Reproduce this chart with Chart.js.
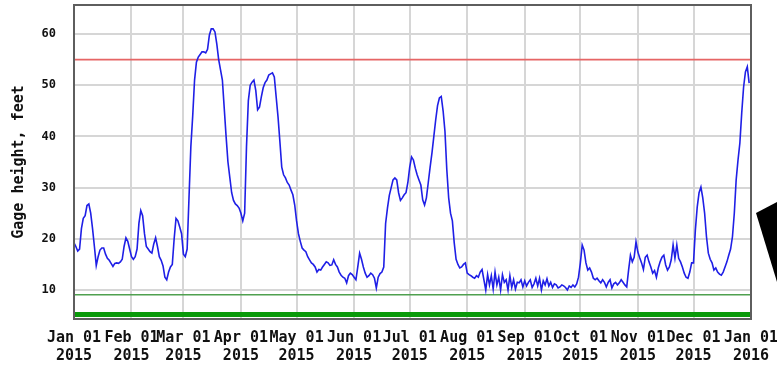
<!DOCTYPE html>
<html>
<head>
<meta charset="utf-8">
<script src="https://cdn.jsdelivr.net/npm/chart.js@4.4.1/dist/chart.umd.min.js"></script>
<style>
  html, body { margin: 0; padding: 0; background: #fff; }
  #wrap { width: 777px; height: 365px; }
</style>
</head>
<body>
<div id="wrap"><canvas id="gageChart"></canvas></div>
<script>
// days since 01 Jan 2015 where each month starts (x ticks)
const monthStartDays = [0, 31, 59, 90, 120, 151, 181, 212, 243, 273, 304, 334, 365];
const monthLabels = ["Jan 01", "Feb 01", "Mar 01", "Apr 01", "May 01", "Jun 01", "Jul 01",
	"Aug 01", "Sep 01", "Oct 01", "Nov 01", "Dec 01", "Jan 01"];
const yearLabels = ["2015", "2015", "2015", "2015", "2015", "2015", "2015",
	"2015", "2015", "2015", "2015", "2015", "2016"];
const yTicks = [10, 20, 30, 40, 50, 60];

// reference lines, feet
const floodStage = 55;
const lowStage = 9.1;
const bottomStage = 5.2;

// daily gage height, feet, one value per day of 2015
const gageHeight = [
	// Jan
	19.2, 18.5, 17.6, 18, 22, 24, 24.5, 26.5, 26.8, 25, 22, 18.5, 14.8, 16.5, 17.8, 18.2,
	18.2, 17, 16.2, 15.8, 15.2, 14.6, 15.2, 15.3, 15.2, 15.5, 16, 18.5, 20.2, 19.5, 18,
	// Feb
	16.5, 16, 16.5, 18, 23, 25.5, 24.5, 21, 18.5, 18, 17.5, 17.2, 19, 20.2, 18.5, 16.5,
	15.8, 14.7, 12.5, 12, 13.5, 14.5, 15, 20, 24, 23.5, 22.3, 21,
	// Mar
	17, 16.5, 18, 28, 38, 44, 51, 54.5, 55.5, 56, 56.5, 56.5, 56.3, 57, 59.8, 61,
	61, 60.4, 58, 55, 53, 51, 45.5, 40, 35, 32, 29, 27.5, 26.8, 26.5, 26,
	// Apr
	25, 23.5, 25, 38, 47, 50, 50.6, 51, 49, 45.2, 45.7, 47.7, 49.5, 50.5, 51, 52,
	52.2, 52.4, 51.6, 47.7, 43.8, 39, 34, 32.5, 31.9, 31, 30.5, 29.5, 28.6, 26.6,
	// May
	23.5, 21, 19.5, 18.2, 17.8, 17.5, 16.5, 15.9, 15.3, 15, 14.5, 13.5, 14, 13.9, 14.5, 15,
	15.5, 15.3, 14.8, 14.9, 15.9, 15, 14.5, 13.5, 12.9, 12.5, 12.3, 11.4, 12.8, 13.3, 13,
	// Jun
	12.5, 12, 14.5, 17.2, 16, 14.5, 13.3, 12.5, 12.8, 13.3, 13, 12.3, 10.4, 12.5, 13.2, 13.5,
	14.5, 23, 26, 28.5, 30, 31.5, 31.9, 31.5, 29, 27.5, 28, 28.6, 29, 31,
	// Jul
	34, 36, 35.4, 33.8, 32.5, 31.5, 30.5, 27.6, 26.6, 28, 31, 34, 36.8, 40, 43.2, 46,
	47.5, 47.8, 45, 41, 33.5, 28, 25, 23.5, 19.2, 16, 15, 14.3, 14.5, 15, 15.3,
	// Aug
	13.3, 13, 12.8, 12.5, 12.3, 12.8, 12.5, 13.5, 14, 12, 10, 13, 11, 12.8, 10.2, 13.5,
	11, 12.5, 10, 13, 11.5, 12, 10, 12.8, 10.5, 12, 10.2, 11.5, 11.4, 12, 10.6,
	// Sep
	11.8, 10.8, 11.5, 12, 10.5, 11.2, 12.3, 10.8, 12.3, 10, 11.8, 11, 12.2, 10.8, 11.5, 10.5,
	11.2, 11, 10.4, 10.6, 11, 10.8, 10.5, 10, 10.8, 10.5, 11, 10.6, 11.2, 12.5,
	// Oct
	15.3, 18.8, 17.8, 15.3, 13.9, 14.3, 13.5, 12.3, 12, 12.3, 11.8, 11.4, 12, 11.5, 10.6, 11.5,
	12, 10.4, 11.2, 11.5, 11, 11.4, 12, 11.5, 11, 10.6, 13.9, 16.8, 15.5, 16.4, 19.4,
	// Nov
	17.4, 16.3, 15.3, 14, 16.4, 16.8, 15.5, 14.5, 13.3, 13.8, 12.5, 14.3, 15.5, 16.4, 16.8, 14.9,
	13.9, 14.5, 15.9, 18.8, 16.2, 18.8, 16.2, 15.5, 14.5, 13.3, 12.5, 12.3, 13.5, 15.3,
	// Dec
	15.3, 21.7, 26.2, 29, 30.1, 28, 25, 20.4, 17.2, 16, 15.3, 13.9, 14.3, 13.5, 13.1, 12.9,
	13.5, 14.5, 15.5, 16.8, 18, 20.4, 25, 31.5, 35.4, 38.7, 44.6, 49.6, 52.6, 53.6, 50.4
];

const monoBold = (size) => ({ family: "'DejaVu Sans Mono', monospace", size: size, weight: "bold" });

// frame round the plot and the black pointer wedge at the right edge
const framePlugin = {
	id: "frame",
	afterDraw(chart) {
		const c = chart.ctx;
		const a = chart.chartArea;
		c.save();
		c.strokeStyle = "#5e5e5e";
		c.lineWidth = 2;
		c.strokeRect(a.left, a.top, a.right - a.left, a.bottom - a.top);
		c.fillStyle = "#000";
		c.beginPath();
		c.moveTo(756, 213);
		c.lineTo(777, 202);
		c.lineTo(777, 282);
		c.closePath();
		c.fill();
		c.restore();
	}
};

function flatLine(v) {
	return [{ x: 0, y: v }, { x: 365, y: v }];
}

const ctx = document.getElementById("gageChart");

new Chart(ctx, {
	type: "line",
	data: {
		datasets: [
			{
				label: "Gage height",
				data: gageHeight.map((v, i) => ({ x: i, y: v })),
				borderColor: "#1f1fe6",
				borderWidth: 1.6,
				pointRadius: 0,
				tension: 0,
			},
			{
				label: "Flood stage",
				data: flatLine(floodStage),
				borderColor: "#e66565",
				borderWidth: 1.6,
				pointRadius: 0,
			},
			{
				label: "Low",
				data: flatLine(lowStage),
				borderColor: "#4fa04f",
				borderWidth: 1.5,
				pointRadius: 0,
			},
			{
				label: "Bottom",
				data: flatLine(bottomStage),
				borderColor: "#0a9a0a",
				borderWidth: 5,
				pointRadius: 0,
			},
		],
	},
	options: {
		responsive: true,
		maintainAspectRatio: false,
		animation: false,
		devicePixelRatio: 1,
		layout: { padding: { top: 5, right: 26, left: 0, bottom: 0 } },
		plugins: {
			legend: { display: false },
			tooltip: { enabled: false },
		},
		scales: {
			x: {
				type: "linear",
				min: 0,
				max: 365,
				afterBuildTicks: (s) => { s.ticks = monthStartDays.map((v) => ({ value: v })); },
				afterFit: (s) => { s.height = 46; s.paddingLeft = 0; s.paddingRight = 0; },
				grid: { color: "#d6d6d6", lineWidth: 2, drawTicks: false },
				border: { display: false },
				ticks: {
					autoSkip: false,
					maxRotation: 0,
					padding: 10,
					color: "#111",
					font: monoBold(15),
					callback: (v, i) => [monthLabels[i], yearLabels[i]],
				},
			},
			y: {
				min: 4.34,
				max: 65.66,
				afterBuildTicks: (s) => { s.ticks = yTicks.map((v) => ({ value: v })); },
				afterFit: (s) => { s.width = 74; s.paddingTop = 0; s.paddingBottom = 0; },
				grid: { color: "#d6d6d6", lineWidth: 2, drawTicks: false },
				border: { display: false },
				ticks: {
					padding: 18,
					color: "#111",
					font: monoBold(12),
				},
				title: {
					display: true,
					text: "Gage height, feet",
					color: "#111",
					font: monoBold(15),
					padding: { top: 10, bottom: 0 },
				},
			},
		},
	},
	plugins: [framePlugin],
});
</script>
</body>
</html>
